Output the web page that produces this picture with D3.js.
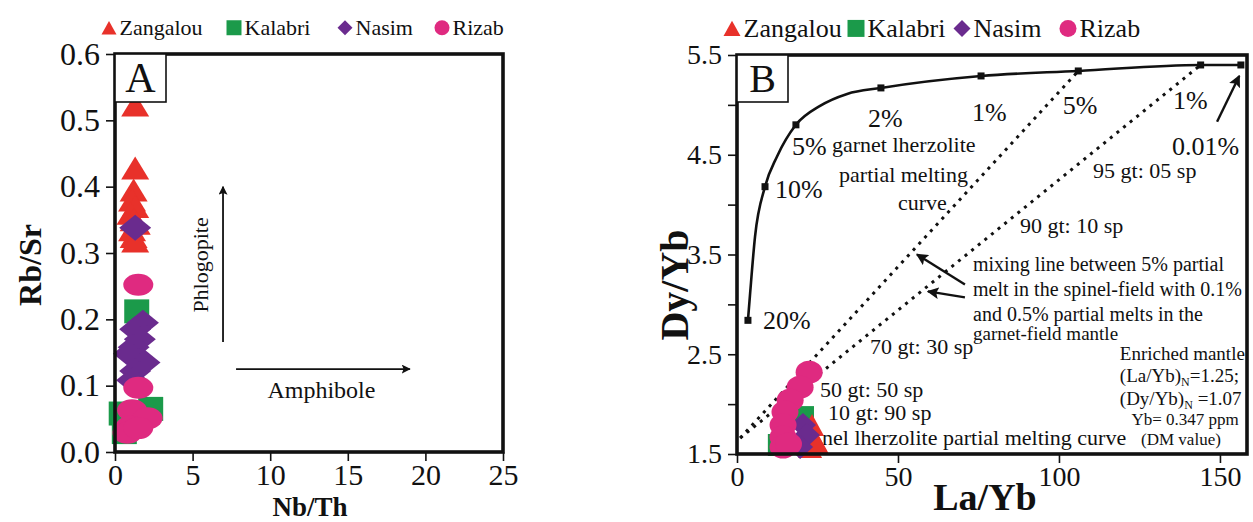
<!DOCTYPE html>
<html>
<head>
<meta charset="utf-8">
<script src="https://cdn.jsdelivr.net/npm/d3@7/dist/d3.min.js"></script>
<style>
  body { margin: 0; background: #fff; }
  svg { display: block; font-family: "Liberation Serif", "Times New Roman", serif; }
  svg text { font-family: "Liberation Serif", "Times New Roman", serif; }
</style>
</head>
<body>
<svg id="chart" width="1253" height="522"></svg>
<script>
// ---- data ----
const groups = ["Zangalou", "Kalabri", "Nasim", "Rizab"];

// panel A : Nb/Th vs Rb/Sr
const zangalouNbTh = [1.3, 1.3, 1.2, 1.1, 1.3, 1.0, 1.2, 1.4, 1.1, 1.2, 1.3];
const zangalouRbSr = [0.523, 0.428, 0.395, 0.38, 0.37, 0.36, 0.35, 0.345, 0.335, 0.325, 0.318];
const kalabriNbTh = [1.4, 2.3, 0.4, 0.6];
const kalabriRbSr = [0.212, 0.065, 0.058, 0.03];
const nasimNbTh = [1.3, 1.8, 1.3, 1.6, 1.2, 0.9, 1.9, 1.3, 1.1];
const nasimRbSr = [0.338, 0.195, 0.185, 0.17, 0.158, 0.148, 0.135, 0.122, 0.108];
const rizabNbTh = [1.5, 1.5, 1.1, 2.1, 1.0, 0.8, 1.5];
const rizabRbSr = [0.252, 0.097, 0.063, 0.051, 0.038, 0.029, 0.036];

// panel B : La/Yb vs Dy/Yb
const zangalouLaYb = [23.3, 24.2, 22.7, 25.0];
const zangalouDyYb = [1.79, 1.64, 1.57, 1.6];
const kalabriLaYb = [13.0, 20.5];
const kalabriDyYb = [1.59, 1.87];
const nasimLaYb = [20.5, 21.7, 19.6];
const nasimDyYb = [1.79, 1.69, 1.57];
const rizabLaYb = [22.4, 19.6, 16.5, 14.9, 14.3, 14.3, 14.3, 16.0];
const rizabDyYb = [2.32, 2.17, 2.04, 1.92, 1.79, 1.67, 1.57, 1.6];

// garnet lherzolite melting curve
const meltLaYb = [3.4, 4.0, 5.6, 8.7, 12.4, 18.3, 25.8, 34.2, 44.7, 75.8, 106, 144, 156.5];
const meltDyYb = [2.84, 3.08, 3.68, 4.18, 4.48, 4.80, 4.99, 5.11, 5.17, 5.29, 5.34, 5.40, 5.40];
const meltStep = ["20%", "", "", "10%", "", "5%", "", "", "2%", "1%", "5%", "1%", "0.01%"];

// mixing lines (enriched mantle -> melts)
const mixStartLaYb = 1, mixStartDyYb = 1.66;
const mixEndLaYb = [106, 144];
const mixEndDyYb = [5.34, 5.40];

// tick labels
const ticksNbTh = [0, 5, 10, 15, 20, 25];
const ticksRbSr = [0, 0.1, 0.2, 0.3, 0.4, 0.5, 0.6];
const ticksLaYb = [0, 50, 100, 150];
const ticksDyYb = [1.5, 2, 2.5, 3, 3.5, 4, 4.5, 5, 5.5];

// ---- drawing ----
const FONT = '"Liberation Serif", "Times New Roman", serif';
const colors = { Zangalou: "#e8312a", Kalabri: "#1b9a4a", Nasim: "#6a2b8e", Rizab: "#df2a80" };
const shapes = { Zangalou: "tri", Kalabri: "sq", Nasim: "dia", Rizab: "circ" };

function shape(kind, w, h) {
  const a = w / 2, b = h / 2;
  if (kind === "tri") return `M0,${-b}L${a},${b}L${-a},${b}Z`;
  if (kind === "sq") return `M${-a},${-b}H${a}V${b}H${-a}Z`;
  if (kind === "dia") return `M0,${-b}L${a},0L0,${b}L${-a},0Z`;
  return `M${-a},0A${a},${b} 0 1,0 ${a},0A${a},${b} 0 1,0 ${-a},0Z`;
}

const svg = d3.select("#chart");
const defs = svg.append("defs");
defs.append("marker").attr("id", "head")
  .attr("viewBox", "0 0 10 10").attr("refX", 9).attr("refY", 5)
  .attr("markerWidth", 5).attr("markerHeight", 5).attr("orient", "auto-start-reverse")
  .attr("markerUnits", "strokeWidth")
  .append("path").attr("d", "M0,0L10,5L0,10L2,5Z").attr("fill", "#111");

function styleAxis(s, fontSize) {
  s.attr("font-family", FONT).attr("font-size", fontSize);
  s.select(".domain").remove();
  s.selectAll("line").attr("stroke", "#111").attr("stroke-width", 1.6);
  s.selectAll("text").attr("fill", "#111")
    .style("font-family", FONT).style("font-size", fontSize + "px");
}

function frame(x, y, fontSize, xTicks, yTicks, yFmt, xFmt, xFontSize) {
  const g = svg.append("g");
  g.append("g").attr("transform", `translate(0,${y.range()[0]})`)
    .call(d3.axisBottom(x).tickValues(xTicks).tickSize(9).tickPadding(3).tickFormat(xFmt))
    .call(styleAxis, xFontSize);
  g.append("g").attr("transform", `translate(${x.range()[0]},0)`)
    .call(d3.axisLeft(y).tickValues(yTicks).tickSize(9).tickPadding(6).tickFormat(yFmt))
    .call(styleAxis, fontSize);
  return g;
}

function border(x, y) {
  svg.append("rect")
    .attr("x", x.range()[0]).attr("y", y.range()[1])
    .attr("width", x.range()[1] - x.range()[0]).attr("height", y.range()[0] - y.range()[1])
    .attr("fill", "none").attr("stroke", "#111").attr("stroke-width", 3.6);
}

function tagBox(x0, y0, w, h, label, fs) {
  svg.append("rect").attr("x", x0).attr("y", y0).attr("width", w).attr("height", h)
    .attr("fill", "#fff").attr("stroke", "#111").attr("stroke-width", 1.6);
  svg.append("text").attr("x", x0 + w / 2).attr("y", y0 + h - 10).attr("text-anchor", "middle")
    .style("font-size", fs + "px").attr("fill", "#111").text(label);
}

function legend(items, y, fs, ms) {
  items.forEach(it => {
    svg.append("path").attr("d", shape(shapes[it.name], ms, it.name === "Zangalou" ? ms * 0.9 : ms))
      .attr("transform", `translate(${it.x},${y - fs * 0.33})`).attr("fill", colors[it.name]);
    svg.append("text").attr("x", it.x + ms * 0.5 + 3).attr("y", y)
      .style("font-size", fs + "px").attr("fill", "#111").text(it.name);
  });
}

function points(x, y, xs, ys, name, w, h) {
  svg.append("g").selectAll("path").data(d3.zip(xs, ys)).join("path")
    .attr("d", shape(shapes[name], w, h))
    .attr("transform", d => `translate(${x(d[0])},${y(d[1])})`)
    .attr("fill", colors[name]);
}

function arrow(x1, y1, x2, y2, sw) {
  svg.append("line").attr("x1", x1).attr("y1", y1).attr("x2", x2).attr("y2", y2)
    .attr("stroke", "#111").attr("stroke-width", sw).attr("marker-end", "url(#head)");
}

// ================= panel A =================
const xA = d3.scaleLinear([0, 25], [115, 503]);
const yA = d3.scaleLinear([0, 0.6], [452, 54]);
frame(xA, yA, 32, ticksNbTh, ticksRbSr, d3.format(".1f"), d3.format("d"), 30);

const sizeA = { Zangalou: [28, 23], Kalabri: [25, 24], Nasim: [32, 26], Rizab: [30, 22] };
points(xA, yA, zangalouNbTh, zangalouRbSr, "Zangalou", ...sizeA.Zangalou);
points(xA, yA, kalabriNbTh, kalabriRbSr, "Kalabri", ...sizeA.Kalabri);
points(xA, yA, nasimNbTh, nasimRbSr, "Nasim", ...sizeA.Nasim);
points(xA, yA, rizabNbTh, rizabRbSr, "Rizab", ...sizeA.Rizab);

// Phlogopite / Amphibole vectors
arrow(xA(6.96), yA(0.166), xA(6.96), yA(0.40), 1.8);
svg.append("text").attr("transform", `translate(${xA(6.0)},${yA(0.282)}) rotate(-90)`)
  .attr("text-anchor", "middle").style("font-size", "22px").attr("fill", "#111").text("Phlogopite");
arrow(xA(7.8), yA(0.125), xA(19.0), yA(0.125), 1.8);
svg.append("text").attr("x", xA(13.3)).attr("y", yA(0.081))
  .attr("text-anchor", "middle").style("font-size", "24px").attr("fill", "#111").text("Amphibole");

border(xA, yA);
tagBox(115, 54, 51, 48, "A", 42);

svg.append("text").attr("transform", "translate(41,265) rotate(-90)").attr("text-anchor", "middle")
  .style("font-size", "32px").style("font-weight", "bold").attr("fill", "#111").text("Rb/Sr");
svg.append("text").attr("x", 310).attr("y", 516).attr("text-anchor", "middle")
  .style("font-size", "27px").style("font-weight", "bold").attr("fill", "#111").text("Nb/Th");

legend([{ name: "Zangalou", x: 109 }, { name: "Kalabri", x: 234 }, { name: "Nasim", x: 345 }, { name: "Rizab", x: 442 }], 35, 22, 15);

// ================= panel B =================
const xB = d3.scaleLinear([0, 158.4], [737, 1247]);
const yB = d3.scaleLinear([1.5, 5.5], [454, 55]);
frame(xB, yB, 28, ticksLaYb, ticksDyYb, d => (d * 2) % 2 === 1 ? d3.format(".1f")(d) : "", d3.format("d"), 28);

// mixing lines
mixEndLaYb.forEach((la, i) => {
  svg.append("line")
    .attr("x1", xB(mixStartLaYb)).attr("y1", yB(mixStartDyYb))
    .attr("x2", xB(la)).attr("y2", yB(mixEndDyYb[i]))
    .attr("stroke", "#111").attr("stroke-width", 3).attr("stroke-dasharray", "3,5.5");
});

// melting curve
svg.append("path")
  .attr("d", d3.line().x(d => xB(d[0])).y(d => yB(d[1])).curve(d3.curveMonotoneX)(d3.zip(meltLaYb, meltDyYb)))
  .attr("fill", "none").attr("stroke", "#111").attr("stroke-width", 2.6);
svg.append("g").selectAll("rect").data(d3.zip(meltLaYb, meltDyYb, meltStep).filter(d => d[2])).join("rect")
  .attr("x", d => xB(d[0]) - 3.5).attr("y", d => yB(d[1]) - 3.5).attr("width", 7).attr("height", 7)
  .attr("fill", "#111");

// annotations (La/Yb, Dy/Yb anchored)
const notesB = [
  { t: "20%", la: 8.1, dy: 2.75, fs: 26 },
  { t: "10%", la: 11.8, dy: 4.07, fs: 26 },
  { t: "5%", la: 17.1, dy: 4.50, fs: 26 },
  { t: "2%", la: 40.7, dy: 4.78, fs: 26 },
  { t: "1%", la: 73.0, dy: 4.84, fs: 26 },
  { t: "5%", la: 101.2, dy: 4.91, fs: 26 },
  { t: "1%", la: 135.4, dy: 4.96, fs: 26 },
  { t: "0.01%", la: 135.1, dy: 4.50, fs: 26 },
  { t: "garnet lherzolite", la: 29.5, dy: 4.525, fs: 22 },
  { t: "partial melting", la: 31.7, dy: 4.23, fs: 22 },
  { t: "curve", la: 50, dy: 3.95, fs: 22 },
  { t: "95 gt: 05 sp", la: 110.6, dy: 4.27, fs: 22 },
  { t: "90 gt: 10 sp", la: 87.9, dy: 3.72, fs: 22 },
  { t: "mixing line between 5% partial", la: 73.3, dy: 3.33, fs: 20 },
  { t: "melt in the spinel-field with 0.1%", la: 73.3, dy: 3.08, fs: 20 },
  { t: "and 0.5% partial melts in the", la: 73.3, dy: 2.83, fs: 20 },
  { t: "garnet-field mantle", la: 73.3, dy: 2.64, fs: 19 },
  { t: "70 gt: 30 sp", la: 41.3, dy: 2.50, fs: 22 },
  { t: "50 gt: 50 sp", la: 25.8, dy: 2.07, fs: 22 },
  { t: "10 gt: 90 sp", la: 28.3, dy: 1.84, fs: 22 },
  { t: "nel lherzolite partial melting curve", la: 26.4, dy: 1.59, fs: 22 },
  { t: "Enriched mantle", la: 118.9, dy: 2.44, fs: 19 },
  { t: "Yb= 0.347 ppm", la: 122.5, dy: 1.79, fs: 17 },
  { t: "(DM value)", la: 125.5, dy: 1.595, fs: 17 }
];
svg.append("g").selectAll("text").data(notesB).join("text")
  .attr("x", d => xB(d.la)).attr("y", d => yB(d.dy))
  .style("font-size", d => d.fs + "px").attr("fill", "#111").text(d => d.t);

// normalised ratios with subscript N
[{ a: "(La/Yb)", b: "=1.25;", dy: 2.22 }, { a: "(Dy/Yb)", b: " =1.07", dy: 1.99 }].forEach(r => {
  const t = svg.append("text").attr("x", xB(118.9)).attr("y", yB(r.dy))
    .style("font-size", "19px").attr("fill", "#111");
  t.append("tspan").text(r.a);
  t.append("tspan").attr("dy", 4).style("font-size", "12px").text("N");
  t.append("tspan").attr("dy", -4).text(r.b);
});

arrow(xB(149.1), yB(4.83), xB(156.0), yB(5.29), 2.4);
arrow(xB(70.8), yB(3.20), xB(55.9), yB(3.50), 2.4);
arrow(xB(70.8), yB(3.07), xB(59.3), yB(3.13), 2.4);

const sizeB = { Zangalou: [24, 22], Kalabri: [22, 22], Nasim: [26, 24], Rizab: [27, 23] };
points(xB, yB, kalabriLaYb, kalabriDyYb, "Kalabri", ...sizeB.Kalabri);
points(xB, yB, zangalouLaYb, zangalouDyYb, "Zangalou", ...sizeB.Zangalou);
points(xB, yB, nasimLaYb, nasimDyYb, "Nasim", ...sizeB.Nasim);
points(xB, yB, rizabLaYb, rizabDyYb, "Rizab", ...sizeB.Rizab);

border(xB, yB);
tagBox(737, 55, 51, 47, "B", 40);

svg.append("text").attr("transform", "translate(688,285) rotate(-90)").attr("text-anchor", "middle")
  .style("font-size", "40px").style("font-weight", "bold").attr("fill", "#111").text("Dy/Yb");
svg.append("text").attr("x", 985).attr("y", 510).attr("text-anchor", "middle")
  .style("font-size", "38px").style("font-weight", "bold").attr("fill", "#111").text("La/Yb");

legend([{ name: "Zangalou", x: 732 }, { name: "Kalabri", x: 856 }, { name: "Nasim", x: 962 }, { name: "Rizab", x: 1068 }], 37, 26, 17);
</script>
</body>
</html>
